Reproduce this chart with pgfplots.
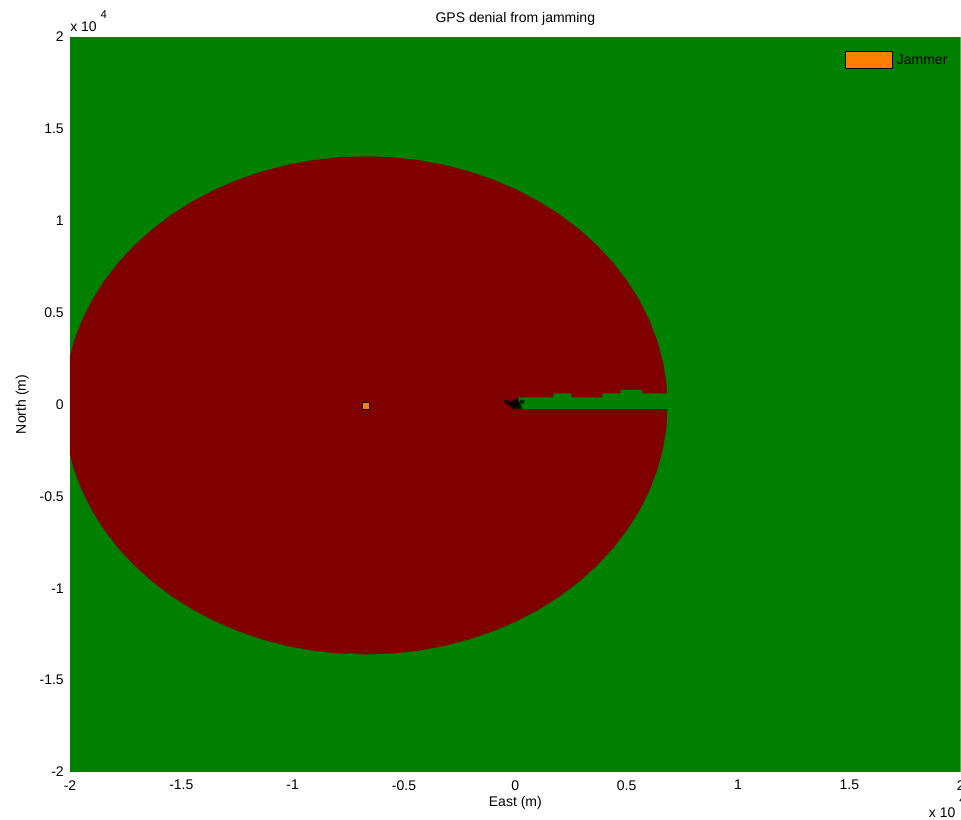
\documentclass[border=0pt]{standalone}
\usepackage{fontspec}
\setmainfont{Liberation Sans}
\usepackage{pgfplots}
\pgfplotsset{compat=1.18}
\pgfplotsset{every axis title shift=0pt}

\definecolor{fieldgreen}{rgb}{0,0.5,0}
\definecolor{deniedred}{rgb}{0.5,0,0}
\definecolor{jamorange}{rgb}{1,0.5,0}
\newcommand\mfont{\fontsize{10.5}{12.6}\selectfont}

\begin{document}
\begin{tikzpicture}
\path[use as bounding box] (-52.5pt,-35.25pt) rectangle (668.25pt,579pt);
\begin{axis}[
  at={(0,0)}, anchor=south west,
  scale only axis, width=668pt, height=551.25pt,
  xmin=-20000, xmax=20000, ymin=-20000, ymax=20000,
  axis line style={draw=none}, tick style={draw=none},
  scaled ticks=false,
  xtick={-20000,-15000,...,20000},
  xticklabels={-2,-1.5,-1,-0.5,0,0.5,1,1.5,2},
  ytick={-20000,-15000,...,20000},
  yticklabels={-2,-1.5,-1,-0.5,0,0.5,1,1.5,2},
  xticklabel style={font=\mfont, inner sep=0pt, yshift=-6pt},
  yticklabel style={font=\mfont, inner sep=0pt, xshift=-4.5pt},
  title={GPS denial from jamming},
  title style={font=\mfont, at={(rel axis cs:0.5,1.015)}, anchor=south, inner sep=0pt},
  xlabel={East (m)},
  xlabel style={font=\mfont, at={(rel axis cs:0.5,-0.033)}, anchor=north, inner sep=0pt},
  ylabel={North (m)},
  ylabel style={font=\mfont, at={(rel axis cs:-0.0461,0.5)}, rotate=0, anchor=south, inner sep=0pt},
  legend style={at={(rel axis cs:0.8697,0.981)}, anchor=north west, draw=none, fill=none,
    inner sep=0pt, column sep=3pt, font=\mfont, nodes={inner sep=0pt}},
  legend cell align=left,
]
% area where GPS is available
\addplot[fill=fieldgreen, draw=none, forget plot] coordinates {
  (-20000,-20000) (20000,-20000) (20000,20000) (-20000,20000)} -- cycle;
% jammed region around the emitter
\addplot[fill=deniedred, draw=none, forget plot] coordinates {
  (6840,-50) (6788,1132) (6634,2304) (6378,3460) (6022,4588) (5570,5681)
  (5023,6730) (4388,7728) (3667,8666) (2868,9538) (1996,10337) (1058,11058)
  (60,11693) (-989,12240) (-2082,12692) (-3210,13048) (-4366,13304)
  (-5538,13458) (-6720,13510) (-7902,13458) (-9074,13304) (-10230,13048)
  (-11358,12692) (-12451,12240) (-13500,11693) (-14498,11058) (-15436,10337)
  (-16308,9538) (-17107,8666) (-17828,7728) (-18463,6730) (-19010,5681)
  (-19462,4588) (-19818,3460) (-20074,2304) (-20228,1132) (-20280,-50)
  (-20228,-1232) (-20074,-2404) (-19818,-3560) (-19462,-4688) (-19010,-5781)
  (-18463,-6830) (-17828,-7828) (-17107,-8766) (-16308,-9638) (-15436,-10437)
  (-14498,-11158) (-13500,-11793) (-12451,-12340) (-11358,-12792)
  (-10230,-13148) (-9074,-13404) (-7902,-13558) (-6720,-13610) (-5538,-13558)
  (-4366,-13404) (-3210,-13148) (-2082,-12792) (-989,-12340) (60,-11793)
  (1058,-11158) (1996,-10437) (2868,-9638) (3667,-8766) (4388,-7828)
  (5023,-6830) (5570,-5781) (6022,-4688) (6378,-3560) (6634,-2404)
  (6788,-1232)} -- cycle;
% unjammed corridor east of the receiver
\addplot[fill=fieldgreen, draw=none, forget plot] coordinates {
  (133,-244) (7000,-244) (7000,600) (5706,600) (5706,790) (4717,790)
  (4717,600) (3908,600) (3908,393) (2515,393) (2515,600) (1706,600)
  (1706,393) (133,393)} -- cycle;
% receiver track
\addplot[only marks, mark=asterisk, mark size=2pt, black, line width=0.6pt, forget plot] coordinates {
  (-400,150) (-250,50) (-150,-50) (0,0) (100,-100) (200,-150) (300,150)
  (50,200) (-100,100) (150,50) (-50,-150)};
% jammer
\addplot[only marks, mark=square*, mark size=2.6pt, draw=black, fill=jamorange, line width=0.75pt,
  legend image code/.code={\draw[fill=jamorange, draw=black, line width=0.75pt]
    (0pt,-6.375pt) rectangle (35.25pt,6.375pt);}] coordinates {(-6720,-100)};
\addlegendentry{Jammer}
\end{axis}
% tick-label exponents
\node[anchor=base west, inner sep=0pt, font=\mfont] at (0pt,555pt)
  {x 10\hspace{3pt}\raisebox{10pt}{\fontsize{8.5}{8.5}\selectfont 4}};
\node[anchor=base west, inner sep=0pt, font=\mfont] at (644pt,-33.75pt)
  {x 10\hspace{3pt}\raisebox{10pt}{\fontsize{8.5}{8.5}\selectfont 4}};
\end{tikzpicture}
\end{document}
